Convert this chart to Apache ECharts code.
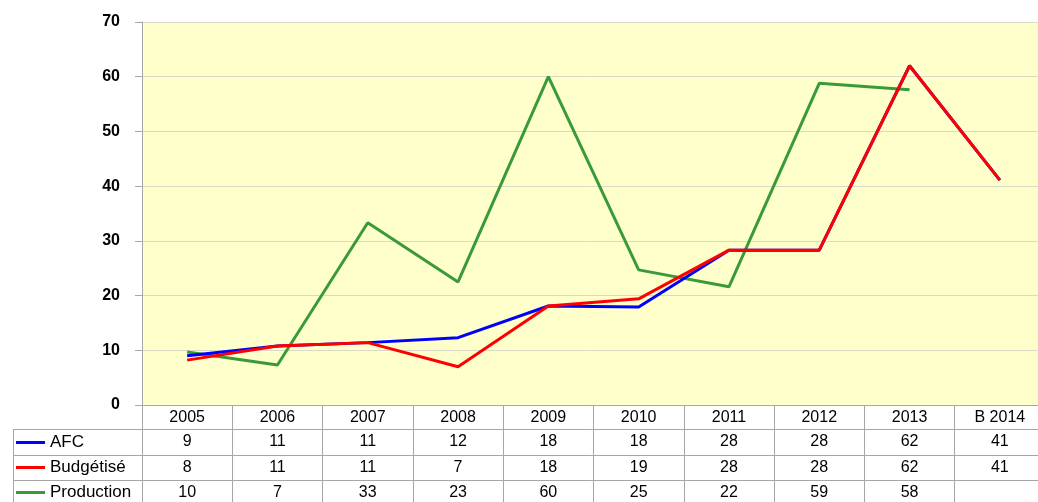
<!DOCTYPE html>
<html>
  <head>
    <meta charset="utf-8" />
    <script src="https://cdn.jsdelivr.net/npm/echarts@6/dist/echarts.min.js"></script>
  </head>
  <body>
    <style>
      #main,
      html,
      body {
        width: 100%;
        height: 100%;
        margin: 0;
        overflow: hidden;
        background: #fff;
      }
    </style>
    <div id="main"></div>
    <script type="text/javascript">
      // données
      var annees = ['2005', '2006', '2007', '2008', '2009', '2010', '2011', '2012', '2013', 'B 2014'];
      var afc = [9, 10.8, 11.4, 12.3, 18.1, 17.9, 28.3, 28.3, 62, 41.1];
      var budgetise = [8.2, 10.8, 11.4, 7.0, 18.1, 19.4, 28.3, 28.3, 62, 41.1];
      var production = [9.7, 7.3, 33.3, 22.5, 60, 24.7, 21.6, 58.8, 57.6, null];

      var police = 'Liberation Sans, Arial, sans-serif';
      var gris = '#a6a6a6';

      // valeurs arrondies pour le tableau sous le graphique
      function ligne(vals) {
        return vals.map(function (v) { return v == null ? '' : String(Math.round(v)); });
      }

      function axeTableau(vals, decalage) {
        return {
          type: 'category',
          data: ligne(vals),
          position: 'bottom',
          offset: decalage,
          axisLine: { show: true, lineStyle: { color: gris, width: 1 } },
          axisTick: { show: false },
          axisLabel: { interval: 0, margin: 5, color: '#000', fontSize: 16, fontFamily: police }
        };
      }

      var myChart = echarts.init(document.getElementById('main'));

      var option = {
        animation: false,
        grid: {
          left: 142,
          top: 22,
          right: -7,
          bottom: 97,
          show: true,
          backgroundColor: '#FFFFCC',
          borderWidth: 0,
          containLabel: false,
          outerBoundsMode: 'none'
        },
        legend: {
          data: ['AFC', 'Budgétisé', 'Production'],
          orient: 'vertical',
          left: 16,
          top: 434,
          padding: 0,
          icon: 'rect',
          itemWidth: 29,
          itemHeight: 3,
          itemGap: 8,
          selectedMode: false,
          textStyle: { color: '#000', fontSize: 17, lineHeight: 17, fontFamily: police }
        },
        xAxis: [
          {
            type: 'category',
            data: annees,
            position: 'bottom',
            axisLine: { show: true, lineStyle: { color: gris, width: 1 } },
            axisTick: { show: true, interval: 0, length: 97, lineStyle: { color: gris } },
            axisLabel: { interval: 0, margin: 5, color: '#000', fontSize: 16, fontFamily: police }
          },
          axeTableau(afc, 24),
          axeTableau(budgetise, 50),
          axeTableau(production, 75)
        ],
        yAxis: {
          type: 'value',
          min: 0,
          max: 70,
          interval: 10,
          axisLine: { show: true, lineStyle: { color: gris, width: 1 } },
          axisTick: { show: true, length: 7, lineStyle: { color: gris } },
          axisLabel: { margin: 22, color: '#000', fontSize: 16, fontWeight: 'bold', fontFamily: police },
          splitLine: { show: true, lineStyle: { color: '#d9d9c4', width: 1 } }
        },
        graphic: [
          { type: 'line', shape: { x1: 13, y1: 429.5, x2: 142, y2: 429.5 }, style: { stroke: gris, lineWidth: 1 } },
          { type: 'line', shape: { x1: 13, y1: 455.5, x2: 142, y2: 455.5 }, style: { stroke: gris, lineWidth: 1 } },
          { type: 'line', shape: { x1: 13, y1: 480.5, x2: 142, y2: 480.5 }, style: { stroke: gris, lineWidth: 1 } },
          { type: 'line', shape: { x1: 13.5, y1: 429, x2: 13.5, y2: 502 }, style: { stroke: gris, lineWidth: 1 } }
        ],
        series: [
          {
            name: 'Production',
            type: 'line',
            data: production,
            symbol: 'none',
            connectNulls: false,
            lineStyle: { color: '#3a9a3a', width: 3 },
            itemStyle: { color: '#3a9a3a' }
          },
          {
            name: 'AFC',
            type: 'line',
            data: afc,
            symbol: 'none',
            lineStyle: { color: '#0000ff', width: 3 },
            itemStyle: { color: '#0000ff' }
          },
          {
            name: 'Budgétisé',
            type: 'line',
            data: budgetise,
            symbol: 'none',
            lineStyle: { color: '#ff0000', width: 3 },
            itemStyle: { color: '#ff0000' }
          }
        ]
      };

      myChart.setOption(option);
      window.addEventListener('resize', function () {
        myChart.resize();
      });
    </script>
  </body>
</html>
